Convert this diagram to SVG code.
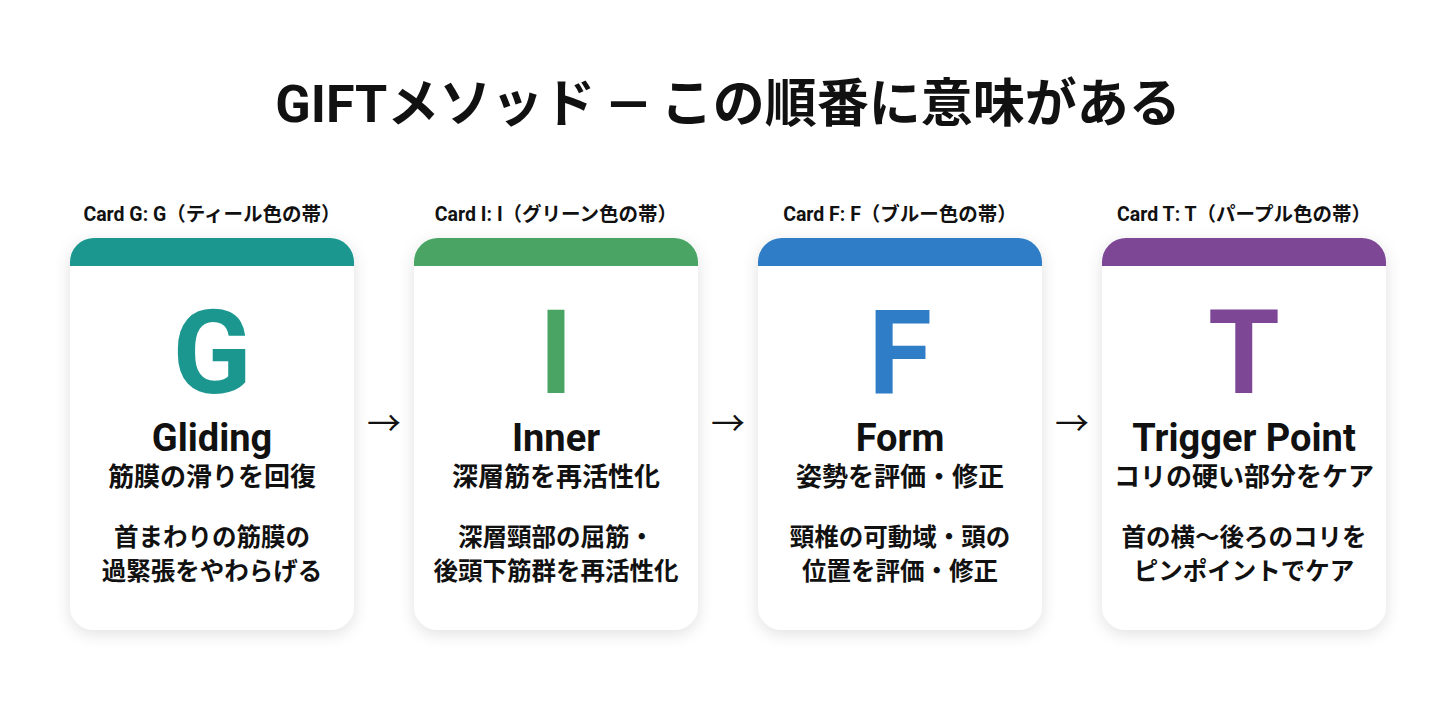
<svg xmlns="http://www.w3.org/2000/svg" width="1456" height="720" viewBox="0 0 1456 720">
<style>
text{font-family:Roboto,"Noto Sans CJK JP",sans-serif;text-anchor:middle;fill:#111}
.title{font-size:52px;font-weight:700}
.cap{font-size:19.5px;font-weight:700}
.big{font-size:116px;font-weight:700}
.name{font-size:38px;font-weight:700}
.sub{font-size:26px;font-weight:700}
.desc{font-size:24.5px;font-weight:700}
.arr{font-size:34px}
.card{fill:#fff;filter:url(#sh)}
</style>
<defs>
<filter id="sh" x="-20%" y="-20%" width="140%" height="140%"><feDropShadow dx="0" dy="4" stdDeviation="8" flood-color="#000" flood-opacity="0.12"/></filter>
<clipPath id="c"><rect x="0" y="0" width="284" height="392" rx="24"/></clipPath>
</defs>
<rect width="1456" height="720" fill="#fff"/>
<text class="title" x="728" y="122">GIFTメソッド — この順番に意味がある</text>
<g id="cardG" transform="translate(70,238)">
<text class="cap" x="142" y="-17">Card G: G（ティール色の帯）</text>
<rect class="card" width="284" height="392" rx="24"/>
<rect clip-path="url(#c)" width="284" height="28" fill="#1b9790"/>
<text class="big" x="142" y="155" style="fill:#1b9790">G</text>
<text class="name" x="142" y="213">Gliding</text>
<text class="sub" x="142" y="248">筋膜の滑りを回復</text>
<text class="desc" x="142" y="308">首まわりの筋膜の</text>
<text class="desc" x="142" y="342">過緊張をやわらげる</text>
</g>
<g id="cardI" transform="translate(414,238)">
<text class="cap" x="142" y="-17">Card I: I（グリーン色の帯）</text>
<rect class="card" width="284" height="392" rx="24"/>
<rect clip-path="url(#c)" width="284" height="28" fill="#4aa564"/>
<text class="big" x="142" y="155" style="fill:#4aa564">I</text>
<text class="name" x="142" y="213">Inner</text>
<text class="sub" x="142" y="248">深層筋を再活性化</text>
<text class="desc" x="142" y="308">深層頸部の屈筋・</text>
<text class="desc" x="142" y="342">後頭下筋群を再活性化</text>
</g>
<g id="cardF" transform="translate(758,238)">
<text class="cap" x="142" y="-17">Card F: F（ブルー色の帯）</text>
<rect class="card" width="284" height="392" rx="24"/>
<rect clip-path="url(#c)" width="284" height="28" fill="#2f7dc6"/>
<text class="big" x="142" y="155" style="fill:#2f7dc6">F</text>
<text class="name" x="142" y="213">Form</text>
<text class="sub" x="142" y="248">姿勢を評価・修正</text>
<text class="desc" x="142" y="308">頸椎の可動域・頭の</text>
<text class="desc" x="142" y="342">位置を評価・修正</text>
</g>
<g id="cardT" transform="translate(1102,238)">
<text class="cap" x="142" y="-17">Card T: T（パープル色の帯）</text>
<rect class="card" width="284" height="392" rx="24"/>
<rect clip-path="url(#c)" width="284" height="28" fill="#7d4796"/>
<text class="big" x="142" y="155" style="fill:#7d4796">T</text>
<text class="name" x="142" y="213">Trigger Point</text>
<text class="sub" x="142" y="248">コリの硬い部分をケア</text>
<text class="desc" x="142" y="308">首の横〜後ろのコリを</text>
<text class="desc" x="142" y="342">ピンポイントでケア</text>
</g>
<g id="connectors">
<text class="arr" x="384" y="436">→</text>
<text class="arr" x="728" y="436">→</text>
<text class="arr" x="1072" y="436">→</text>
</g>
</svg>
